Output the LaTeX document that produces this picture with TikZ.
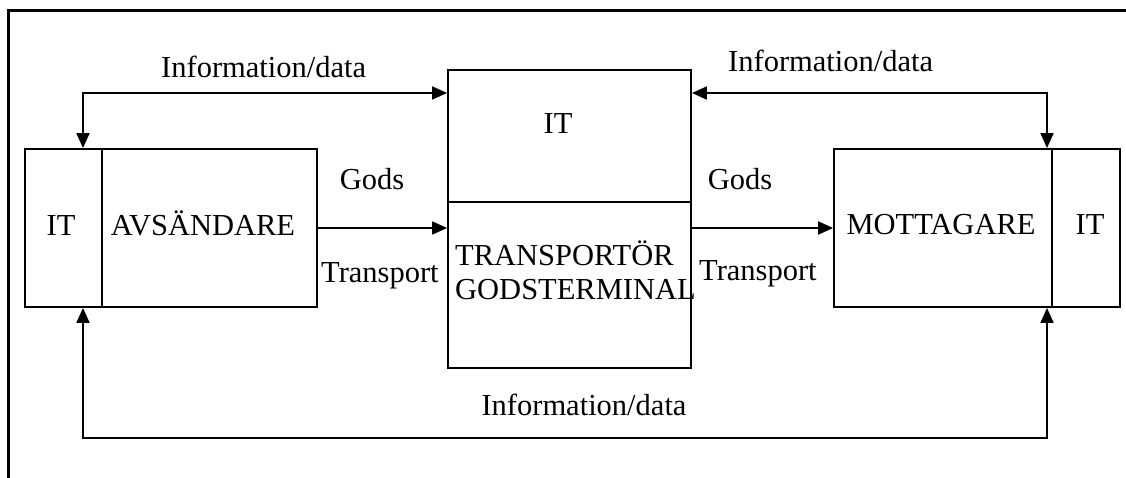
\documentclass[tikz,border=0pt]{standalone}
\usepackage{fontspec}
\setmainfont{Liberation Serif}
\usetikzlibrary{arrows.meta}
\begin{document}
\begin{tikzpicture}[x=1pt,y=-1pt,
  box/.style={draw,line width=1.8pt,inner sep=0pt,minimum width=#1},
  lbl/.style={inner sep=0pt,anchor=base west,font=\fontsize{30.5}{34}\selectfont},
  ctr/.style={inner sep=0pt,anchor=base,font=\fontsize{30.5}{34}\selectfont},
  flow/.style={line width=1.8pt,-{Triangle[length=15pt,width=13pt]}},
  both/.style={line width=1.8pt,{Triangle[length=15pt,width=13pt]}-{Triangle[length=15pt,width=13pt]}}]
\useasboundingbox (0,0) rectangle (1126,478);
% open outer frame
\draw[line width=3pt] (8.5,478) -- (8.5,11) -- (1126,11);

% sender with its IT part
\node[box=77pt,minimum height=158pt] (sndIT) at (63.5,228) {};
\node[box=215pt,minimum height=158pt] (snd) at (209.5,228) {};
% carrier / terminal with IT on top
\node[box=243pt,minimum height=132pt] (midIT) at (569.5,136) {};
\node[box=243pt,minimum height=166pt] (mid) at (569.5,285) {};
% receiver with its IT part
\node[box=218pt,minimum height=158pt] (rcv) at (943,228) {};
\node[box=68pt,minimum height=158pt] (rcvIT) at (1086,228) {};

% box texts
\node[ctr] (tIT1) at (61,236) {IT};
\node[ctr] (tsnd) at (203,236) {AVSÄNDARE};
\node[ctr] (tIT2) at (558,134) {IT};
\node[lbl,align=left] (tmid) at (455,299) {TRANSPORTÖR\\GODSTERMINAL};
\node[ctr] (trcv) at (941,235) {MOTTAGARE};
\node[ctr] (tIT3) at (1090,235) {IT};

% goods flow
\draw[flow] (snd.east) -- (mid.west |- snd.east);
\draw[flow] (mid.east |- rcv.west) -- (rcv.west);
\node[ctr] (g1) at (372,190) {Gods};
\node[lbl] (t1) at (321,282) {Transport};
\node[ctr] (g2) at (740,190) {Gods};
\node[lbl] (t2) at (699,280) {Transport};

% information flows
\coordinate (jl) at (83,93);
\coordinate (jr) at (1047,93);
\coordinate (bl) at (83,438);
\coordinate (br) at (1047,438);
\draw[both] (jl |- sndIT.north) -- (jl) -- (jl -| midIT.west);
\draw[both] (jr -| midIT.east) -- (jr) -- (jr |- rcv.north);
\draw[both] (bl |- sndIT.south) -- (bl) -- (br) -- (br |- rcv.south);
\node[lbl] (i1) at (161,78) {Information/data};
\node[lbl] (i2) at (728,72) {Information/data};
\node[ctr] (i3) at (584,415) {Information/data};
\end{tikzpicture}
\end{document}
